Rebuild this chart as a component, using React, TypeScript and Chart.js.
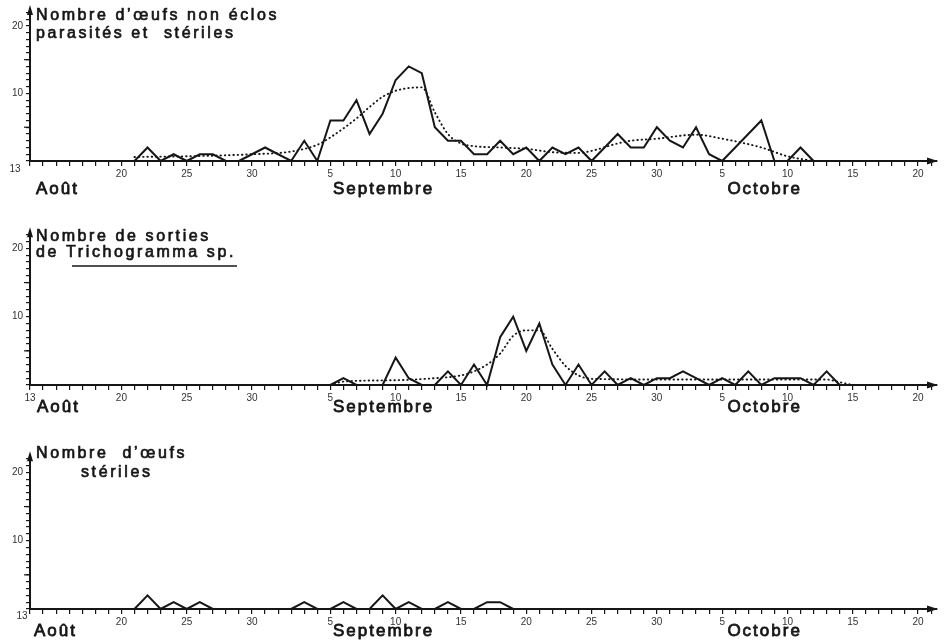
import React, { useEffect, useRef } from 'react';
import { Chart, registerables } from 'chart.js';

Chart.register(...registerables);

const FONT = '"Liberation Sans", Arial, Helvetica, sans-serif';
const INK = '#161616';

// x values are days counted from 13 August (0 = 13 Aug, 19 = 1 Sep, 49 = 1 Oct)
const xTickDays = [7, 12, 17, 23, 28, 33, 38, 43, 48, 53, 58, 63, 68];
const xTickLabels = ['20', '25', '30', '5', '10', '15', '20', '25', '30', '5', '10', '15', '20'];
const yTickValues = [10, 20];
const yTickLabels = ['10', '20'];
const monthNames = ['Août', 'Septembre', 'Octobre'];
const monthStartDays = [0.5, 23.2, 53.4];
const firstDayLabel = '13';

// Panel 1 : Nombre d'œufs non éclos parasités et stériles (daily, from 21 Aug)
const p1Start = 8;
const p1Values = [0, 2, 0, 1, 0, 1, 1, 0, 0, 1, 2, 1, 0, 3, 0, 6, 6, 9, 4, 7, 12, 14, 13, 5, 3, 3, 1, 1, 3, 1, 2, 0, 2, 1, 2, 0, 2, 4, 2, 2, 5, 3, 2, 5, 1, 0, 2, 4, 6, 0, 0, 2, 0];
const p1TrendDays = [8, 12, 17, 20, 22, 23, 25, 26, 27, 28, 29, 30, 31, 32, 33, 34, 36, 38, 40, 42, 43, 45, 46, 48, 51, 53, 56, 58, 60];
const p1TrendValues = [0.6, 0.7, 1.0, 1.4, 2.4, 3.5, 6.3, 8, 9.5, 10.4, 10.8, 10.9, 7.2, 4, 2.6, 2.2, 2.0, 1.8, 1.3, 1.2, 1.5, 2.6, 3.0, 3.3, 3.9, 3.3, 2.0, 0.7, 0];

// Panel 2 : Nombre de sorties de Trichogramma sp. (daily, from 5 Sep)
const p2Start = 23;
const p2Values = [0, 1, 0, 0, 0, 4, 1, 0, 0, 2, 0, 3, 0, 7, 10, 5, 9, 3, 0, 3, 0, 2, 0, 1, 0, 1, 1, 2, 1, 0, 1, 0, 2, 0, 1, 1, 1, 0, 2, 0];
const p2TrendDays = [23, 24, 28, 31, 33, 34, 35, 36, 37, 38, 39, 40, 41, 42, 43, 50, 57, 61, 62, 63];
const p2TrendValues = [0, 0.5, 0.7, 1.0, 1.4, 2.0, 3.0, 4.6, 7.2, 8.0, 8.0, 5.3, 2.8, 1.4, 0.9, 0.8, 0.8, 0.8, 0.4, 0];

// Panel 3 : Nombre d'œufs stériles (daily, from 21 Aug)
const p3Start = 8;
const p3Values = [0, 2, 0, 1, 0, 1, 0, 0, 0, 0, 0, 0, 0, 1, 0, 0, 1, 0, 0, 2, 0, 1, 0, 0, 1, 0, 0, 1, 1, 0];

const Y_MAX = 22.5;
const X_MAX = 69.45;
const UNIT_PX = 6.83;
const W = 945;
const H = 641;

type TextItem = { text: string; x: number; y: number };
type PanelCfg = {
  base: number;
  values: number[];
  start: number;
  trendDays?: number[];
  trendValues?: number[];
  title: TextItem[];
  underline?: { x1: number; x2: number; y: number };
  monthY: number;
  aoutX: number;
  day13: { x: number; y: number };
};

const panels: PanelCfg[] = [
  {
    base: 161,
    values: p1Values,
    start: p1Start,
    trendDays: p1TrendDays,
    trendValues: p1TrendValues,
    title: [
      { text: 'Nombre d’œufs non éclos', x: 36, y: 20 },
      { text: 'parasités et  stériles', x: 36, y: 38 },
    ],
    monthY: 194,
    aoutX: 36,
    day13: { x: 15, y: 169 },
  },
  {
    base: 385,
    values: p2Values,
    start: p2Start,
    trendDays: p2TrendDays,
    trendValues: p2TrendValues,
    title: [
      { text: 'Nombre de sorties', x: 36, y: 241 },
      { text: 'de Trichogramma sp.', x: 36, y: 257 },
    ],
    underline: { x1: 72, x2: 237, y: 266 },
    monthY: 412,
    aoutX: 37,
    day13: { x: 30, y: 398 },
  },
  {
    base: 609,
    values: p3Values,
    start: p3Start,
    title: [
      { text: 'Nombre  d’œufs', x: 36, y: 458 },
      { text: 'stériles', x: 81, y: 477 },
    ],
    monthY: 636,
    aoutX: 34,
    day13: { x: 22, y: 616 },
  },
];

function heavyText(ctx: CanvasRenderingContext2D, text: string, x: number, y: number, weight: number) {
  ctx.fillText(text, x, y);
  ctx.lineWidth = weight;
  ctx.lineJoin = 'round';
  ctx.strokeText(text, x, y);
}

const decorPlugin = {
  id: 'decor',
  afterDraw(chart: any, _args: any, opts: any) {
    const cfg: PanelCfg = opts.cfg;
    if (!cfg) return;
    const { ctx, chartArea: a } = chart;
    const xs = chart.scales.x;
    const ys = chart.scales.y;
    ctx.save();
    ctx.fillStyle = INK;
    ctx.strokeStyle = INK;
    // x-axis arrow head
    ctx.beginPath();
    ctx.moveTo(a.right + 1, a.bottom);
    ctx.lineTo(a.right - 10, a.bottom - 3.5);
    ctx.lineTo(a.right - 10, a.bottom + 3.5);
    ctx.closePath();
    ctx.fill();
    // y-axis arrow head
    ctx.beginPath();
    ctx.moveTo(a.left, a.top - 4);
    ctx.lineTo(a.left - 3, a.top + 6);
    ctx.lineTo(a.left + 3, a.top + 6);
    ctx.closePath();
    ctx.fill();
    // slightly longer y ticks every 5 units
    ctx.lineWidth = 1.2;
    [5, 15].forEach((v) => {
      const py = ys.getPixelForValue(v);
      ctx.beginPath();
      ctx.moveTo(a.left - 6, py);
      ctx.lineTo(a.left, py);
      ctx.stroke();
    });

    // titles
    ctx.textAlign = 'left';
    ctx.textBaseline = 'alphabetic';
    ctx.font = `16px ${FONT}`;
    (ctx as any).letterSpacing = '2.6px';
    cfg.title.forEach((t) => heavyText(ctx, t.text, t.x, t.y, 0.7));
    if (cfg.underline) {
      ctx.lineWidth = 1.6;
      ctx.beginPath();
      ctx.moveTo(cfg.underline.x1, cfg.underline.y);
      ctx.lineTo(cfg.underline.x2, cfg.underline.y);
      ctx.stroke();
    }

    // month names
    ctx.font = `17px ${FONT}`;
    (ctx as any).letterSpacing = '2px';
    monthNames.forEach((m, i) => {
      const px = i === 0 ? cfg.aoutX : xs.getPixelForValue(monthStartDays[i]);
      heavyText(ctx, m, px, cfg.monthY, 0.8);
    });

    // first day label (13) as a small superscript
    (ctx as any).letterSpacing = '0px';
    ctx.font = `10px ${FONT}`;
    ctx.fillStyle = '#333';
    ctx.textAlign = 'center';
    ctx.textBaseline = 'middle';
    ctx.fillText(firstDayLabel, cfg.day13.x, cfg.day13.y);
    ctx.restore();
  },
};

function buildConfig(cfg: PanelCfg): any {
  const datasets: any[] = [
    {
      data: cfg.values.map((v, i) => ({ x: cfg.start + i, y: v })),
      borderColor: INK,
      borderWidth: 2,
      pointRadius: 0,
      tension: 0,
      fill: false,
      borderJoinStyle: 'miter',
      clip: false,
    },
  ];
  if (cfg.trendDays && cfg.trendValues) {
    datasets.push({
      data: cfg.trendDays.map((d, i) => ({ x: d, y: cfg.trendValues![i] })),
      borderColor: INK,
      borderWidth: 1.9,
      borderDash: [0.5, 3.8],
      borderCapStyle: 'round',
      pointRadius: 0,
      cubicInterpolationMode: 'monotone',
      fill: false,
      clip: false,
    });
  }
  const labelFor = (v: number) => {
    const i = xTickDays.indexOf(v);
    return i >= 0 ? xTickLabels[i] : '';
  };
  const yLabelFor = (v: number) => {
    const i = yTickValues.indexOf(v);
    return i >= 0 ? yTickLabels[i] : '';
  };
  return {
    type: 'line',
    data: { datasets },
    options: {
      responsive: false,
      animation: false,
      events: [],
      layout: { padding: { left: 0, right: 8, top: cfg.base - Y_MAX * UNIT_PX, bottom: 0 } },
      plugins: {
        legend: { display: false },
        tooltip: { enabled: false },
        title: { display: false },
        decor: { cfg },
      },
      scales: {
        x: {
          type: 'linear',
          min: 0,
          max: X_MAX,
          afterBuildTicks: (s: any) => {
            const t = [];
            for (let d = 0; d <= 69; d++) t.push({ value: d });
            s.ticks = t;
          },
          afterFit: (s: any) => {
            s.height = H - cfg.base;
          },
          ticks: {
            autoSkip: false,
            maxRotation: 0,
            minRotation: 0,
            padding: 2,
            color: '#333',
            font: { family: FONT, size: 10 },
            callback: (v: any) => labelFor(Number(v)),
          },
          grid: {
            display: true,
            drawOnChartArea: false,
            drawTicks: true,
            tickLength: 5,
            color: INK,
            lineWidth: 1.2,
          },
          border: { display: true, color: INK, width: 2 },
        },
        y: {
          type: 'linear',
          min: 0,
          max: Y_MAX,
          afterBuildTicks: (s: any) => {
            const t = [];
            for (let v = 0; v <= 22; v++) t.push({ value: v });
            s.ticks = t;
          },
          afterFit: (s: any) => {
            s.width = 30;
          },
          ticks: {
            autoSkip: false,
            padding: 3,
            color: '#333',
            font: { family: FONT, size: 10 },
            callback: (v: any) => yLabelFor(Number(v)),
          },
          grid: {
            display: true,
            drawOnChartArea: false,
            drawTicks: true,
            tickLength: 4,
            color: INK,
            lineWidth: 1.2,
          },
          border: { display: true, color: INK, width: 2 },
        },
      },
    },
    plugins: [decorPlugin],
  };
}

function Panel({ cfg }: { cfg: PanelCfg }) {
  const ref = useRef<HTMLCanvasElement>(null);
  useEffect(() => {
    if (!ref.current) return;
    const chart = new Chart(ref.current, buildConfig(cfg));
    return () => chart.destroy();
  }, [cfg]);
  return (
    <canvas
      ref={ref}
      width={W}
      height={H}
      style={{ position: 'absolute', left: 0, top: 0, width: W, height: H }}
    />
  );
}

export default function App() {
  return (
    <div
      style={{
        position: 'absolute',
        left: 0,
        top: 0,
        width: W,
        height: H,
        background: '#ffffff',
        overflow: 'hidden',
      }}
    >
      {panels.map((p, i) => (
        <Panel key={i} cfg={p} />
      ))}
    </div>
  );
}
